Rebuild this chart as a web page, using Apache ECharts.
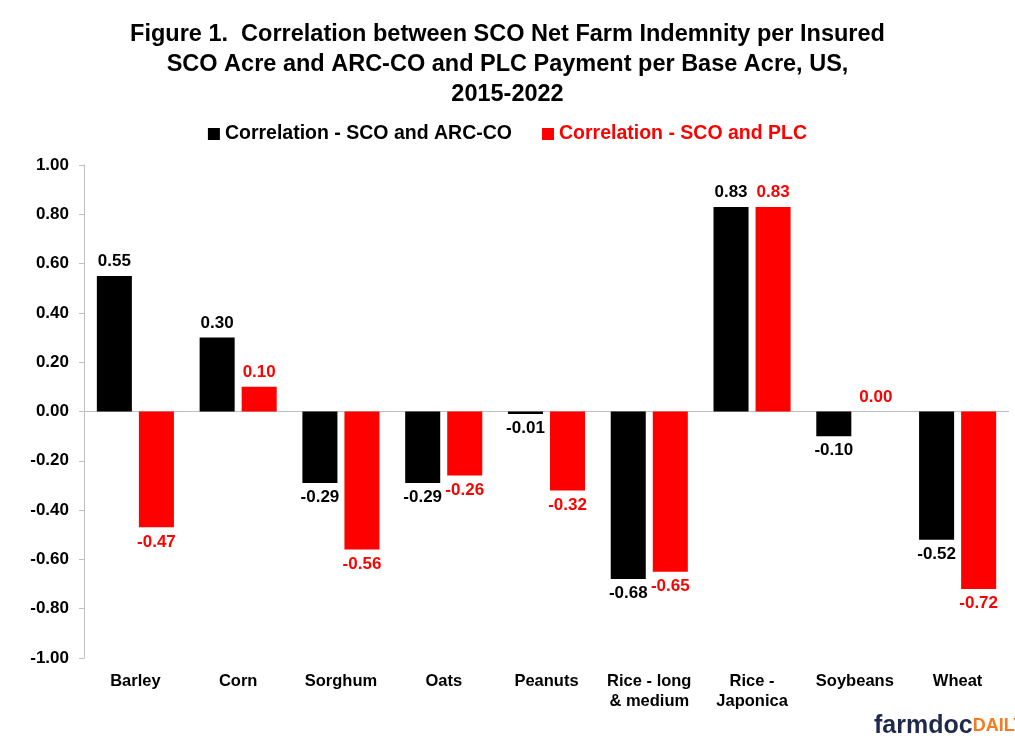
<!DOCTYPE html>
<html>
<head>
<meta charset="utf-8">
<script src="https://cdn.jsdelivr.net/npm/echarts@6/dist/echarts.min.js"></script>
<style>html,body{margin:0;padding:0;background:#fff}#c{width:1015px;height:742px}</style>
</head>
<body>
<div id="c"></div>
<script>
const categories = ['Barley', 'Corn', 'Sorghum', 'Oats', 'Peanuts', 'Rice - long\n& medium', 'Rice -\nJaponica', 'Soybeans', 'Wheat'];
const arcValues = [0.55, 0.30, -0.29, -0.29, -0.01, -0.68, 0.83, -0.10, -0.52];
const plcValues = [-0.47, 0.10, -0.56, -0.26, -0.32, -0.65, 0.83, 0.00, -0.72];
const seriesNames = ['Correlation - SCO and ARC-CO', 'Correlation - SCO and PLC'];
const yTicks = { min: -1, max: 1, interval: 0.2 };

const FONT = '"Liberation Sans", Arial, sans-serif';
const chart = echarts.init(document.getElementById('c'));

function labelCfg(color) {
  return {
    show: true,
    position: 'top',
    color: color,
    fontFamily: FONT,
    fontWeight: 'bold',
    fontSize: 17,
    distance: 6,
    formatter: p => p.value.toFixed(2)
  };
}
function mkData(vals, color) {
  return vals.map(v => ({
    value: v,
    label: Object.assign(labelCfg(color), { position: v < 0 ? 'bottom' : 'top' })
  }));
}

chart.setOption({
  animation: false,
  title: {
    text: 'Figure 1.  Correlation between SCO Net Farm Indemnity per Insured\nSCO Acre and ARC-CO and PLC Payment per Base Acre, US,\n2015-2022',
    left: 'center',
    top: 15,
    textStyle: { fontFamily: FONT, fontWeight: 'bold', fontSize: 23.5, color: '#000', lineHeight: 30 }
  },
  legend: {
    top: 119,
    left: 'center',
    itemWidth: 12,
    itemHeight: 12,
    itemGap: 30,
    icon: 'rect',
    textStyle: { fontFamily: FONT, fontWeight: 'bold', fontSize: 19.5 },
    data: [
      { name: seriesNames[0], textStyle: { color: '#000' } },
      { name: seriesNames[1], textStyle: { color: '#ff0000' } }
    ]
  },
  grid: { left: 84, right: 6, top: 165, bottom: 84 },
  xAxis: {
    type: 'category',
    data: categories,
    axisLine: { show: false, onZero: false },
    axisTick: { show: false },
    axisLabel: {
      interval: 0,
      margin: 13,
      fontFamily: FONT,
      fontWeight: 'bold',
      fontSize: 16.5,
      color: '#000',
      lineHeight: 20
    }
  },
  yAxis: {
    type: 'value',
    min: yTicks.min,
    max: yTicks.max,
    interval: yTicks.interval,
    splitLine: { show: false },
    axisLine: { show: true, lineStyle: { color: '#bfbfbf' } },
    axisTick: { show: true, inside: false, length: 5, lineStyle: { color: '#bfbfbf' } },
    axisLabel: {
      margin: 15,
      fontFamily: FONT,
      fontWeight: 'bold',
      fontSize: 17,
      color: '#000',
      formatter: v => v.toFixed(2)
    }
  },
  series: [
    {
      name: seriesNames[0],
      type: 'bar',
      data: mkData(arcValues, '#000'),
      itemStyle: { color: '#000' },
      barGap: '20%',
      barCategoryGap: '25%',
      markLine: {
        silent: true,
        symbol: 'none',
        label: { show: false },
        lineStyle: { color: '#bfbfbf', type: 'solid', width: 1 },
        data: [{ yAxis: 0 }],
        z: 1
      }
    },
    {
      name: seriesNames[1],
      type: 'bar',
      data: mkData(plcValues, '#ff0000'),
      itemStyle: { color: '#ff0000' },
      barGap: '20%',
      barCategoryGap: '25%'
    }
  ],
  graphic: [
    {
      type: 'text',
      left: 874,
      top: 714,
      style: {
        rich: {
          a: { fontFamily: FONT, fontWeight: 'bold', fontSize: 25, fill: '#1f2a4a' },
          b: { fontFamily: FONT, fontWeight: 'bold', fontSize: 18, fill: '#f47c20' }
        },
        text: '{a|farmdoc}{b|DAILY}'
      }
    }
  ]
});
</script>
</body>
</html>
